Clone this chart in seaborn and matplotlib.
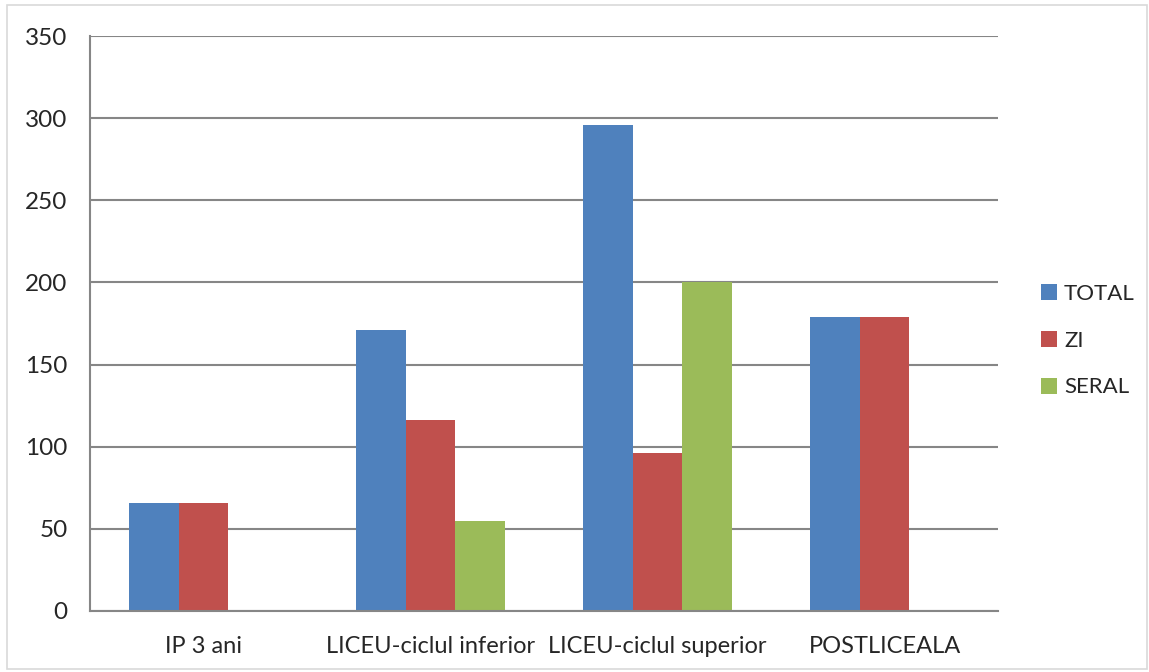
import matplotlib
matplotlib.use("Agg")
import matplotlib.pyplot as plt
import seaborn as sns
import pandas as pd
from matplotlib.patches import Rectangle

categories = ["IP 3 ani", "LICEU-ciclul inferior", "LICEU-ciclul superior", "POSTLICEALA"]
series_names = ["TOTAL", "ZI", "SERAL"]
total = [66, 171, 296, 179]
zi = [66, 116, 96, 179]
seral = [0, 55, 200, 0]
colors = ["#4F81BD", "#C0504D", "#9BBB59"]
yticks = [0, 50, 100, 150, 200, 250, 300, 350]

rows = []
for name, vals in zip(series_names, [total, zi, seral]):
    for c, v in zip(categories, vals):
        rows.append({"cat": c, "serie": name, "val": v})
df = pd.DataFrame(rows)

sns.set_style("white")
plt.rcParams["font.family"] = ["Lato", "DejaVu Sans"]

fig = plt.figure(figsize=(11.49, 6.72), dpi=100)
ax = fig.add_axes([0.0783, 0.0908, 0.7903, 0.8556])

sns.barplot(data=df, x="cat", y="val", hue="serie", order=categories,
            hue_order=series_names, palette=colors, width=0.66,
            linewidth=0, errorbar=None, ax=ax, saturation=1)

ax.set_ylim(0, 350)
ax.set_yticks(yticks)
ax.set_yticklabels([str(t) for t in yticks], fontsize=17.5)
ax.set_xlabel("")
ax.set_ylabel("")
ax.tick_params(axis="x", labelsize=17, length=0, pad=18)
ax.tick_params(axis="y", length=4, color="#868686", pad=12)
ax.yaxis.grid(True, color="#868686", linewidth=1.5)
ax.set_axisbelow(True)
for s in ["top", "right"]:
    ax.spines[s].set_visible(False)
for s in ["left", "bottom"]:
    ax.spines[s].set_color("#868686")
    ax.spines[s].set_linewidth(1.5)

leg = ax.legend(loc="center left", bbox_to_anchor=(1.025, 0.47), frameon=False,
                fontsize=16, handlelength=0.75, handleheight=0.75,
                handletextpad=0.3, labelspacing=1.2)

fig.patches.append(Rectangle((0.006, 0.004), 0.992, 0.988, transform=fig.transFigure,
                             fill=False, edgecolor="#D9D9D9", linewidth=1.2))

fig.savefig("out.png", dpi=100)
